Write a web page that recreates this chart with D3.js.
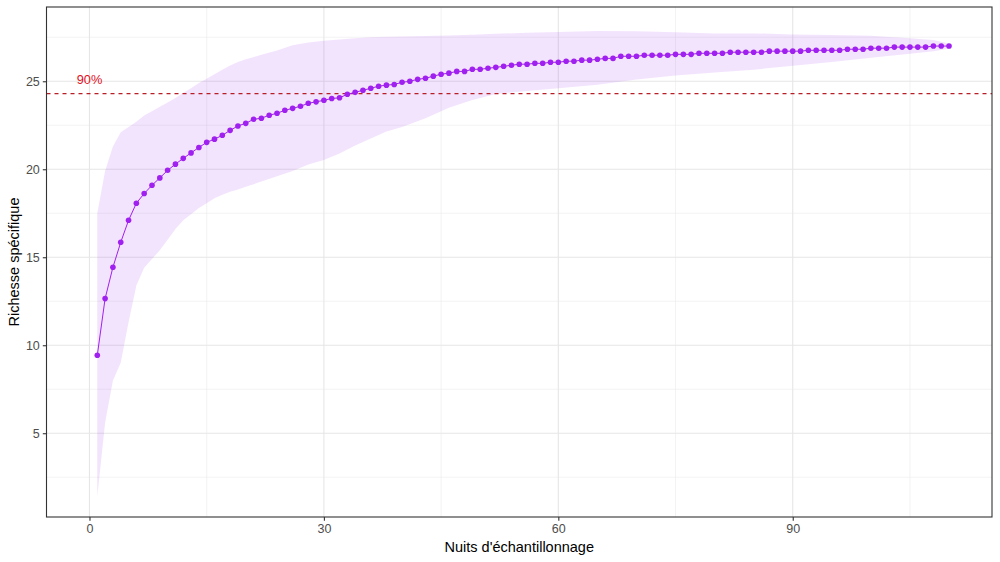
<!DOCTYPE html>
<html>
<head>
<meta charset="utf-8">
<script src="https://cdn.jsdelivr.net/npm/d3@7"></script>
<style>
  html, body { margin: 0; padding: 0; background: #ffffff; }
  svg { display: block; font-family: "Liberation Sans", Arial, sans-serif; }
</style>
</head>
<body>
<svg id="chart" width="1000" height="562"></svg>
<script>
// ---- Data ----
const nights = [1,2,3,4,5,6,7,8,9,10,11,12,13,14,15,16,17,18,19,20,
  21,22,23,24,25,26,27,28,29,30,31,32,33,34,35,36,37,38,39,40,
  41,42,43,44,45,46,47,48,49,50,51,52,53,54,55,56,57,58,59,60,
  61,62,63,64,65,66,67,68,69,70,71,72,73,74,75,76,77,78,79,80,
  81,82,83,84,85,86,87,88,89,90,91,92,93,94,95,96,97,98,99,100,
  101,102,103,104,105,106,107,108,109,110];

const richness = [9.43,12.65,14.43,15.85,17.10,18.07,18.62,19.09,19.51,19.94,
  20.29,20.62,20.93,21.24,21.53,21.71,21.93,22.21,22.46,22.61,
  22.84,22.90,23.07,23.18,23.35,23.46,23.58,23.75,23.83,23.92,
  24.02,24.06,24.26,24.37,24.49,24.60,24.72,24.78,24.82,24.94,
  25.00,25.11,25.17,25.29,25.40,25.46,25.56,25.56,25.68,25.68,
  25.74,25.79,25.85,25.91,25.97,25.97,26.02,26.02,26.08,26.08,
  26.14,26.14,26.20,26.20,26.25,26.30,26.30,26.42,26.42,26.42,
  26.48,26.48,26.48,26.48,26.53,26.53,26.53,26.59,26.59,26.59,
  26.59,26.65,26.65,26.65,26.65,26.65,26.71,26.71,26.71,26.71,
  26.71,26.76,26.76,26.76,26.76,26.76,26.82,26.82,26.82,26.88,
  26.88,26.88,26.94,26.94,26.94,26.94,26.94,27.00,27.00,27.00];

// Envelope (ribbon) read at these nights
const ribbonNights = [1,2,3,4,5,6,7,8,9,10,11,12,13,14,15,16,17,18,19,20,
  22,24,26,28,30,32,34,36,38,40,43,46,49,52,56,60,65,70,75,80,85,90,95,100,105,108,110];
const ribbonHigh = [17.5,19.9,21.3,22.1,22.4,22.7,23.05,23.3,23.55,23.8,24.05,24.35,24.6,24.9,25.15,25.4,25.65,25.9,26.1,26.25,
  26.5,26.75,27.05,27.2,27.3,27.38,27.44,27.5,27.53,27.55,27.57,27.6,27.65,27.7,27.75,27.8,27.86,27.84,27.78,27.72,27.72,27.66,27.63,27.58,27.44,27.35,27.15];
const ribbonLow = [1.4,5.6,8.0,9.0,11.3,13.4,14.4,14.9,15.4,16.0,16.6,17.1,17.45,17.8,18.07,18.35,18.55,18.72,18.85,19.0,
  19.3,19.6,19.9,20.27,20.52,20.9,21.35,21.75,22.15,22.4,22.9,23.5,23.94,24.28,24.45,24.6,24.8,25.1,25.33,25.5,25.66,25.88,26.1,26.33,26.57,26.7,26.85];

const thresholdValue = 24.3;
const thresholdLabel = "90%";
const thresholdLabelX = 0;

const xTicks = [0, 30, 60, 90];
const xMinor = [15, 45, 75, 105];
const yTicks = [5, 10, 15, 20, 25];
const yMinor = [2.5, 7.5, 12.5, 17.5, 22.5, 27.5];

const xTitle = "Nuits d'échantillonnage";
const yTitle = "Richesse spécifique";

// ---- Layout ----
const panel = { left: 46.5, right: 992, top: 7, bottom: 517 };
const svg = d3.select("#chart");

const x = d3.scaleLinear().domain([-5.5, 115.5]).range([panel.left, panel.right]);
const y = d3.scaleLinear().domain([0.24, 29.22]).range([panel.bottom, panel.top]);

const g = svg.append("g");

// background
g.append("rect")
  .attr("x", panel.left).attr("y", panel.top)
  .attr("width", panel.right - panel.left).attr("height", panel.bottom - panel.top)
  .attr("fill", "#ffffff");

// minor grid
g.selectAll(".xminor").data(xMinor).enter().append("line")
  .attr("x1", d => x(d)).attr("x2", d => x(d))
  .attr("y1", panel.top).attr("y2", panel.bottom)
  .attr("stroke", "#EBEBEB").attr("stroke-width", 0.6);
g.selectAll(".yminor").data(yMinor).enter().append("line")
  .attr("y1", d => y(d)).attr("y2", d => y(d))
  .attr("x1", panel.left).attr("x2", panel.right)
  .attr("stroke", "#EBEBEB").attr("stroke-width", 0.6);
// major grid
g.selectAll(".xmajor").data(xTicks).enter().append("line")
  .attr("x1", d => x(d)).attr("x2", d => x(d))
  .attr("y1", panel.top).attr("y2", panel.bottom)
  .attr("stroke", "#E6E6E6").attr("stroke-width", 1.1);
g.selectAll(".ymajor").data(yTicks).enter().append("line")
  .attr("y1", d => y(d)).attr("y2", d => y(d))
  .attr("x1", panel.left).attr("x2", panel.right)
  .attr("stroke", "#E6E6E6").attr("stroke-width", 1.1);

// ribbon
const ribbonData = ribbonNights.map((n, i) => ({ n, lo: ribbonLow[i], hi: ribbonHigh[i] }));
g.append("path")
  .datum(ribbonData)
  .attr("d", d3.area().x(d => x(d.n)).y0(d => y(d.lo)).y1(d => y(d.hi)))
  .attr("fill", "#A020F0").attr("fill-opacity", 0.12);

// threshold line
g.append("line")
  .attr("x1", panel.left).attr("x2", panel.right)
  .attr("y1", y(thresholdValue)).attr("y2", y(thresholdValue))
  .attr("stroke", "#B81C24").attr("stroke-width", 1.1)
  .attr("stroke-dasharray", "4,4");

g.append("text")
  .attr("x", x(thresholdLabelX)).attr("y", y(thresholdValue) - 9.5)
  .attr("text-anchor", "middle")
  .attr("font-size", 12.8)
  .attr("fill", "#E3101C")
  .text(thresholdLabel);

// line + points
const pts = nights.map((n, i) => ({ n, v: richness[i] }));
g.append("path")
  .datum(pts)
  .attr("d", d3.line().x(d => x(d.n)).y(d => y(d.v)))
  .attr("fill", "none").attr("stroke", "#A020F0").attr("stroke-width", 1);
g.selectAll(".pt").data(pts).enter().append("circle")
  .attr("cx", d => x(d.n)).attr("cy", d => y(d.v)).attr("r", 2.8)
  .attr("fill", "#A020F0");

// panel border
g.append("rect")
  .attr("x", panel.left).attr("y", panel.top)
  .attr("width", panel.right - panel.left).attr("height", panel.bottom - panel.top)
  .attr("fill", "none").attr("stroke", "#333333").attr("stroke-width", 1.1);

// axes
const xAxis = d3.axisBottom(x).tickValues(xTicks).tickSize(3.7).tickPadding(3).tickFormat(d3.format("d"));
const yAxis = d3.axisLeft(y).tickValues(yTicks).tickSize(3.7).tickPadding(3).tickFormat(d3.format("d"));

const gx = svg.append("g").attr("transform", `translate(0,${panel.bottom})`).call(xAxis);
const gy = svg.append("g").attr("transform", `translate(${panel.left},0)`).call(yAxis);
[gx, gy].forEach(a => {
  a.attr("font-size", 12.5).attr("font-family", "Liberation Sans, Arial, sans-serif");
  a.select(".domain").remove();
  a.selectAll(".tick line").attr("stroke", "#333333").attr("stroke-width", 1.1);
  a.selectAll(".tick text").attr("fill", "#4D4D4D");
});

// titles
svg.append("text")
  .attr("x", (panel.left + panel.right) / 2).attr("y", 552)
  .attr("text-anchor", "middle").attr("font-size", 14.5).attr("fill", "#000000")
  .text(xTitle);
svg.append("text")
  .attr("transform", `translate(18.5,${(panel.top + panel.bottom) / 2}) rotate(-90)`)
  .attr("text-anchor", "middle").attr("font-size", 14.5).attr("fill", "#000000")
  .text(yTitle);
</script>
</body>
</html>
